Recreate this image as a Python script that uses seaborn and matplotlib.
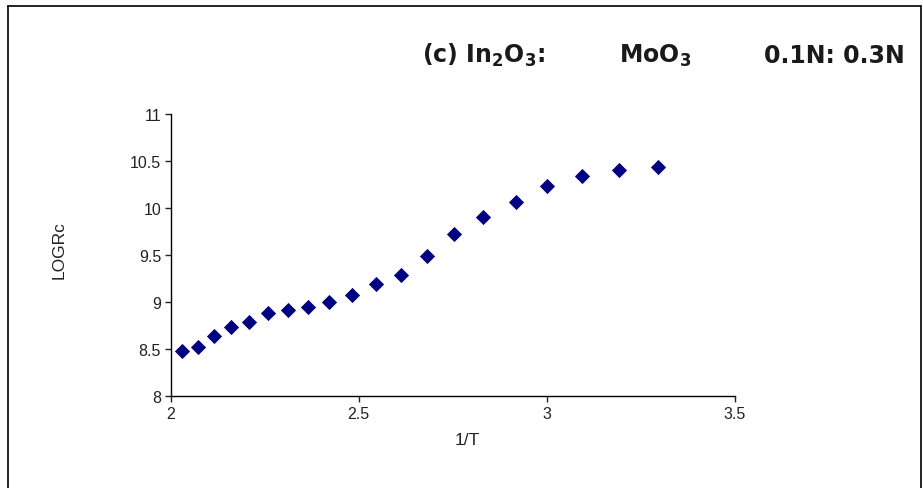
import numpy as np
import pandas as pd
import matplotlib
matplotlib.use("Agg")
import matplotlib.pyplot as plt
import seaborn as sns

inv_t = [2.029, 2.072, 2.116, 2.160, 2.209, 2.258, 2.311, 2.366, 2.422, 2.481,
         2.546, 2.612, 2.681, 2.753, 2.831, 2.917, 3.000, 3.093, 3.191, 3.296]
log_rc = [8.48, 8.52, 8.64, 8.73, 8.79, 8.88, 8.91, 8.95, 9.00, 9.07,
          9.19, 9.29, 9.49, 9.72, 9.90, 10.06, 10.23, 10.34, 10.40, 10.44]
x_ticks = [2, 2.5, 3, 3.5]
y_ticks = [8, 8.5, 9, 9.5, 10, 10.5, 11]

sns.set_style("ticks")
plt.rcParams['font.family'] = ['Liberation Sans', 'DejaVu Sans']
plt.rcParams['mathtext.fontset'] = 'custom'
plt.rcParams['mathtext.bf'] = 'DejaVu Sans:bold'
plt.rcParams['mathtext.rm'] = 'DejaVu Sans:bold'
plt.rcParams['mathtext.default'] = 'bf'

df = pd.DataFrame({'1/T': inv_t, 'LOGRc': log_rc})

W, H = 923, 489
fig = plt.figure(figsize=(W / 100, H / 100), dpi=100)
ax = fig.add_axes([0.185, 0.188, 0.611, 0.577])
sns.scatterplot(data=df, x='1/T', y='LOGRc', ax=ax, marker='D', s=60,
                color='#000080', edgecolor='#000080', linewidth=0)

ax.set_xlim(2, 3.5)
ax.set_ylim(8, 11)
ax.set_xticks(x_ticks)
ax.set_xticklabels(['2', '2.5', '3', '3.5'])
ax.set_yticks(y_ticks)
ax.set_yticklabels(['8', '8.5', '9', '9.5', '10', '10.5', '11'])
ax.tick_params(labelsize=11.5, length=4, width=1, colors='#222222', pad=3)
ax.set_xlabel('1/T', fontsize=12.5, color='#222222')
ax.set_ylabel('LOGRc', fontsize=12.5, color='#222222')
ax.xaxis.set_label_coords(0.525, -0.128)
ax.yaxis.set_label_coords(-0.184, 0.52)
for s in ['left', 'bottom']:
    ax.spines[s].set_color('black')
    ax.spines[s].set_linewidth(1)
sns.despine(ax=ax)

# title, split in three pieces to spread it like the original
title_kw = dict(va='baseline', fontsize=17, fontweight='bold',
                family='DejaVu Sans', color='#1a1a1a')
ty = 1 - 63 / H
fig.text(422 / W, ty, '(c) In$_2$O$_3$:', ha='left', **title_kw)
fig.text(655 / W, ty, 'MoO$_3$', ha='center', **title_kw)
fig.text(905 / W, ty, '0.1N: 0.3N', ha='right', **title_kw)

# outer frame
fig.add_artist(plt.Line2D([0.009, 0.009], [0, 0.985], color='black', lw=1.2))
fig.add_artist(plt.Line2D([0.009, 0.998], [0.985, 0.985], color='black', lw=1.2))
fig.add_artist(plt.Line2D([0.998, 0.998], [0, 0.985], color='black', lw=1.2))

fig.savefig('out.png', dpi=100)
